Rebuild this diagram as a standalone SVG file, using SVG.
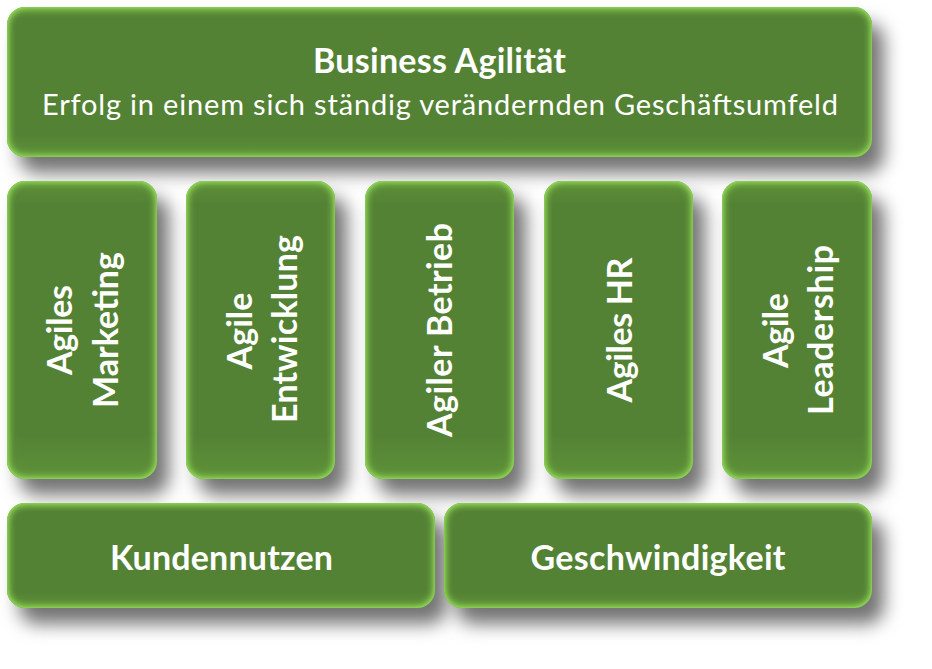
<svg xmlns="http://www.w3.org/2000/svg" width="932" height="669" viewBox="0 0 932 669">
  <defs>
    <filter id="box" x="-20%" y="-30%" width="150%" height="190%" color-interpolation-filters="sRGB">
      <feGaussianBlur in="SourceAlpha" stdDeviation="9" result="sb"/>
      <feOffset in="sb" dx="12" dy="16" result="so"/>
      <feFlood flood-color="#000" flood-opacity="0.55"/>
      <feComposite in2="so" operator="in" result="shadow"/>
      <feGaussianBlur in="SourceAlpha" stdDeviation="4" result="ib"/>
      <feComposite in="SourceAlpha" in2="ib" operator="out" result="edge0"/>
      <feComponentTransfer in="edge0" result="edge">
        <feFuncA type="linear" slope="1.7" intercept="0"/>
      </feComponentTransfer>
      <feFlood flood-color="#94DC58"/>
      <feComposite in2="edge" operator="in" result="glow"/>
      <feMerge>
        <feMergeNode in="shadow"/>
        <feMergeNode in="SourceGraphic"/>
        <feMergeNode in="glow"/>
      </feMerge>
    </filter>
    <linearGradient id="fill" x1="0" y1="0" x2="0" y2="1">
      <stop offset="0" stop-color="#5d9038"/>
      <stop offset="0.08" stop-color="#548235"/>
      <stop offset="0.85" stop-color="#548235"/>
      <stop offset="1" stop-color="#5e9239"/>
    </linearGradient>
  </defs>
  <style>
    .b { fill: url(#fill); filter: url(#box); }
    .t { font-family: Lato, "Open Sans", "Liberation Sans", sans-serif; fill: #ffffff; text-anchor: middle; }
    .bold { font-weight: bold; font-size: 34px; }
    .reg { font-size: 29px; }
  </style>

  <g id="top">
    <rect class="b" x="7" y="7" width="865" height="150" rx="18"/>
    <text class="t bold" x="439.5" y="73" textLength="253">Business Agilität</text>
    <text class="t reg" x="440" y="115" textLength="796">Erfolg in einem sich ständig verändernden Geschäftsumfeld</text>
  </g>

  <g id="col1">
    <rect class="b" x="7" y="181" width="150" height="298" rx="18"/>
    <g transform="translate(82,330) rotate(-90)">
      <text class="t bold" x="0" y="-10" textLength="90">Agiles</text>
      <text class="t bold" x="0" y="36" textLength="156">Marketing</text>
    </g>
  </g>

  <g id="col2">
    <rect class="b" x="186" y="181" width="149" height="298" rx="18"/>
    <g transform="translate(260.5,330) rotate(-90)">
      <text class="t bold" x="-1" y="-8.5" textLength="77">Agile</text>
      <text class="t bold" x="1" y="36.5" textLength="188">Entwicklung</text>
    </g>
  </g>

  <g id="col3">
    <rect class="b" x="365" y="181" width="149" height="298" rx="18"/>
    <g transform="translate(439.5,330) rotate(-90)">
      <text class="t bold" x="0" y="12.5" textLength="214">Agiler Betrieb</text>
    </g>
  </g>

  <g id="col4">
    <rect class="b" x="544" y="181" width="149" height="298" rx="18"/>
    <g transform="translate(618.5,330) rotate(-90)">
      <text class="t bold" x="0" y="13.5" textLength="145">Agiles HR</text>
    </g>
  </g>

  <g id="col5">
    <rect class="b" x="722" y="181" width="150" height="298" rx="18"/>
    <g transform="translate(797,330) rotate(-90)">
      <text class="t bold" x="-0.5" y="-9" textLength="75">Agile</text>
      <text class="t bold" x="0" y="36" textLength="170">Leadership</text>
    </g>
  </g>

  <g id="kundennutzen">
    <rect class="b" x="7" y="503" width="428" height="105" rx="18"/>
    <text class="t bold" x="221.5" y="570" textLength="223">Kundennutzen</text>
  </g>

  <g id="geschwindigkeit">
    <rect class="b" x="444" y="503" width="428" height="105" rx="18"/>
    <text class="t bold" x="658" y="570" textLength="255">Geschwindigkeit</text>
  </g>

  <g id="connectors"/>
</svg>
